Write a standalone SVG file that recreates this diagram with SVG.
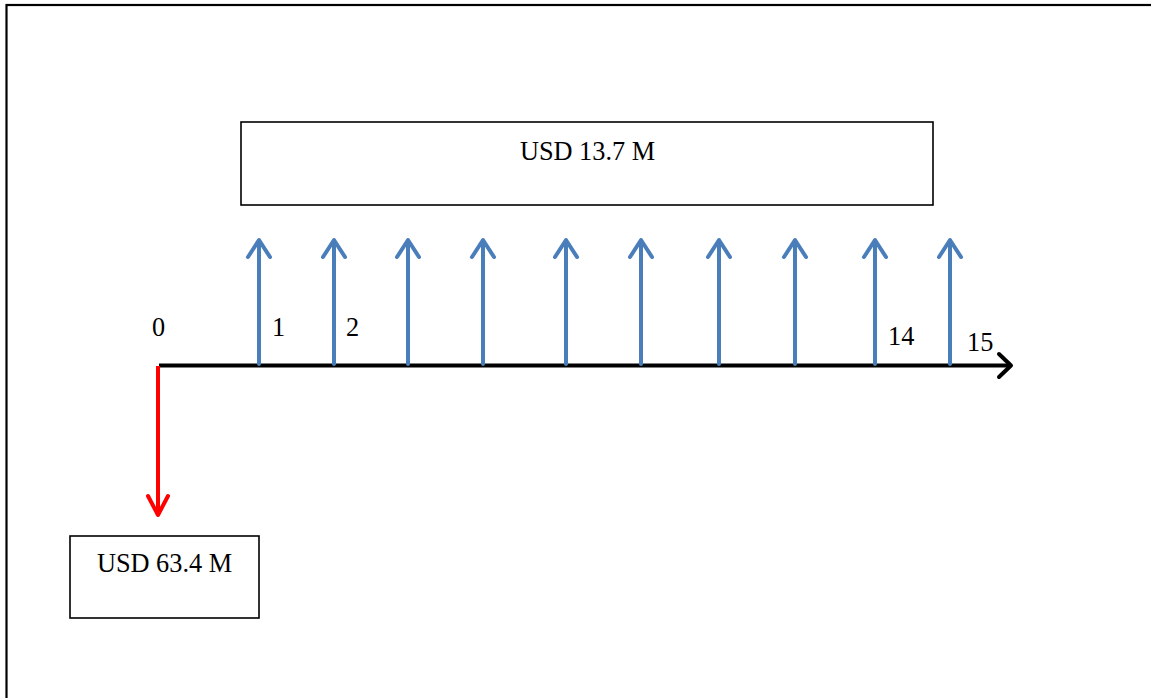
<svg xmlns="http://www.w3.org/2000/svg" width="1151" height="698" viewBox="0 0 1151 698">
<style>
.box{fill:#fff;stroke:#000;stroke-width:1.6}
.t{font-family:"Liberation Serif","Times New Roman",serif;font-size:26.3px;fill:#000}
.blue{stroke:#4A7EBB;stroke-width:4;fill:none}
.head{stroke-linecap:round;stroke-linejoin:round}
</style>
<rect id="frame" x="6.5" y="5" width="1160" height="710" fill="none" stroke="#000" stroke-width="2.2"/>
<g id="box-top"><rect class="box" x="241" y="122" width="692" height="83"/><text class="t" x="587.5" y="160" text-anchor="middle">USD 13.7 M</text></g>
<g id="box-bottom"><rect class="box" x="70" y="536" width="189" height="82"/><text class="t" x="164.5" y="572" text-anchor="middle">USD 63.4 M</text></g>
<g id="labels">
<text class="t" x="152" y="336">0</text>
<text class="t" x="272" y="336">1</text>
<text class="t" x="346" y="336">2</text>
<text class="t" x="888" y="345">14</text>
<text class="t" x="967" y="351">15</text>
</g>
<g id="connectors">
<path d="M159 365.5 H1010" stroke="#000" stroke-width="4" fill="none"/>
<path class="head" d="M999 354 L1011 365.5 L999 377" stroke="#000" stroke-width="4" fill="none"/>
<path d="M158 366 V514" stroke="#FF0000" stroke-width="4" fill="none"/>
<path class="head" d="M148 496 L158 515 L168 496" stroke="#FF0000" stroke-width="4" fill="none"/>
<g class="blue">
<path d="M259 364 V241 M248 257 L259 240 L270 257" class="head"/>
<path d="M334 364 V241 M323 257 L334 240 L345 257" class="head"/>
<path d="M408 364 V241 M397 257 L408 240 L419 257" class="head"/>
<path d="M483 364 V241 M472 257 L483 240 L494 257" class="head"/>
<path d="M566 364 V241 M555 257 L566 240 L577 257" class="head"/>
<path d="M641 364 V241 M630 257 L641 240 L652 257" class="head"/>
<path d="M719 364 V241 M708 257 L719 240 L730 257" class="head"/>
<path d="M795 364 V241 M784 257 L795 240 L806 257" class="head"/>
<path d="M875 364 V241 M864 257 L875 240 L886 257" class="head"/>
<path d="M950 364 V241 M939 257 L950 240 L961 257" class="head"/>
</g>
</g>
</svg>
